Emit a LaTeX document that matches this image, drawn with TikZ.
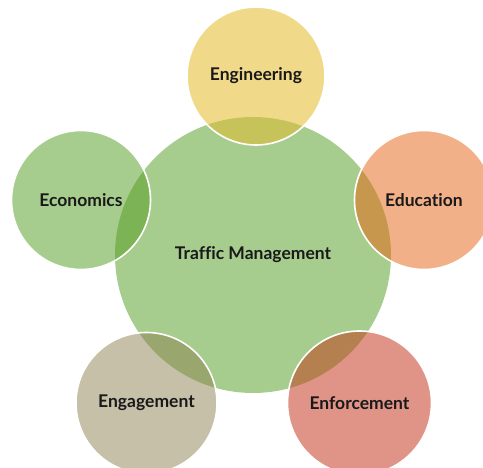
\documentclass[tikz,border=0pt]{standalone}
\usepackage{fontspec}
\setmainfont[Ligatures=NoCommon]{Lato}
\definecolor{cgreen}{HTML}{A7CD8E}
\definecolor{cEng}{HTML}{F0DA8A}
\definecolor{oEng}{HTML}{C6C35A}
\definecolor{cEco}{HTML}{A7CD8E}
\definecolor{oEco}{HTML}{7CB455}
\definecolor{cEdu}{HTML}{F2B088}
\definecolor{oEdu}{HTML}{C8974E}
\definecolor{cEnga}{HTML}{C6C0A8}
\definecolor{oEnga}{HTML}{99A66D}
\definecolor{cEnf}{HTML}{E09488}
\definecolor{oEnf}{HTML}{B48050}
\tikzset{
  blob/.style={circle, inner sep=0pt, font=\fontsize{17.5}{21}\selectfont\bfseries, text=black!90},
  rim/.style={draw=white, line width=1.6pt}
}
\begin{document}
\begin{tikzpicture}[x=1pt,y=-1pt]
\useasboundingbox (0,0) rectangle (483,468);
\clip (0,0) rectangle (483,468);
\node[blob, fill=cgreen, minimum size=276pt] (tm) at (253,255) {Traffic Management};
\node[blob, fill=cEng, minimum size=138pt] (eng) at (256,76) {Engineering};
\node[blob, fill=cEco, minimum size=139pt] (eco) at (81,200) {Economics};
\node[blob, fill=cEdu, minimum size=139pt] (edu) at (424,200) {Education};
\node[blob, fill=cEnga, minimum size=141pt] (enga) at (146.5,403) {Engagement};
\node[blob, fill=cEnf, minimum size=144pt] (enf) at (359.5,403) {Enforcement};
\begin{scope}
  \clip (tm.center) circle[radius=138pt];
  \fill[oEng] (eng.center) circle[radius=69pt];
  \fill[oEco] (eco.center) circle[radius=69.5pt];
  \fill[oEdu] (edu.center) circle[radius=69.5pt];
  \fill[oEnga] (enga.center) circle[radius=70.5pt];
  \fill[oEnf] (enf.center) circle[radius=72pt];
\end{scope}
\draw[rim] (eng.center) circle[radius=69pt];
\draw[rim] (eco.center) circle[radius=69.5pt];
\draw[rim] (edu.center) circle[radius=69.5pt];
\draw[rim] (enga.center) circle[radius=70.5pt];
\draw[rim] (enf.center) circle[radius=72pt];
\end{tikzpicture}
\end{document}
